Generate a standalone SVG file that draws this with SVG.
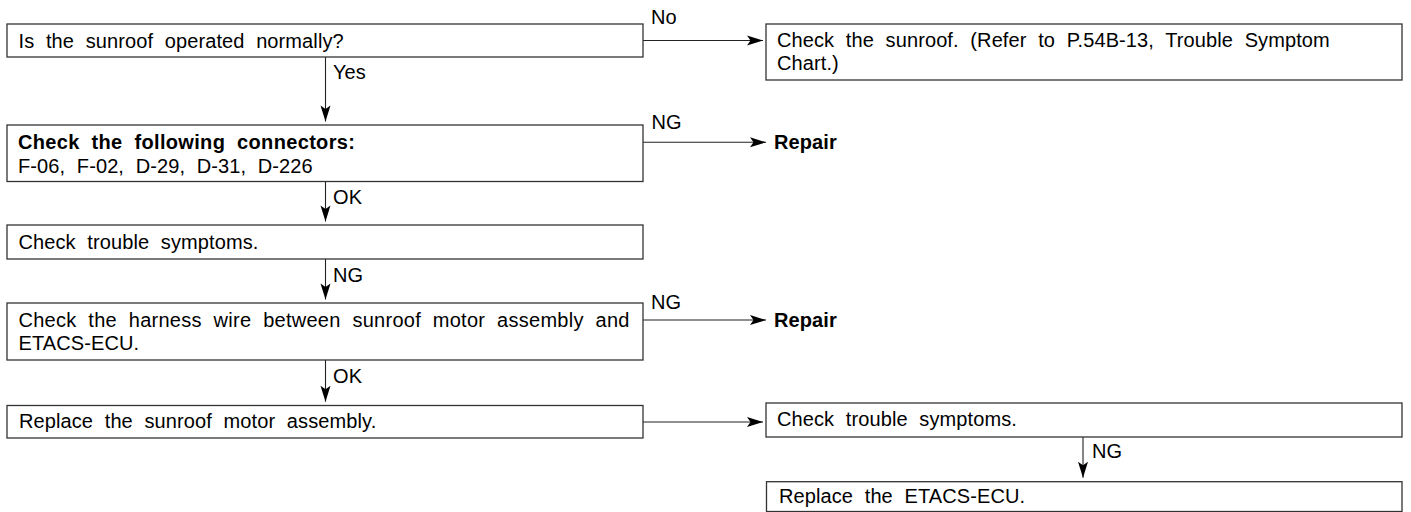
<svg xmlns="http://www.w3.org/2000/svg" width="1411" height="512" viewBox="0 0 1411 512">
<style>
.box{fill:#fff;stroke:#333;stroke-width:1.3}
.t{font-family:"Liberation Sans",Arial,sans-serif;font-size:20px;fill:#000;word-spacing:6px;letter-spacing:0.1px}
.b{font-weight:bold}
.ln{fill:none;stroke:#222;stroke-width:1.1}
</style>
<defs>
<marker id="ah" markerUnits="userSpaceOnUse" markerWidth="17" markerHeight="11" refX="16" refY="5" orient="auto" overflow="visible">
<path d="M0,0 L16,5 L0,10 L3.5,5 Z" fill="#000"/>
</marker>
</defs>
<rect width="1411" height="512" fill="#fff"/>
<g id="connectors">
<line class="ln" x1="643" y1="40.5" x2="763" y2="40.5" marker-end="url(#ah)"/>
<line class="ln" x1="325.5" y1="57" x2="325.5" y2="121.5" marker-end="url(#ah)"/>
<line class="ln" x1="643" y1="142.3" x2="766" y2="142.3" marker-end="url(#ah)"/>
<line class="ln" x1="325.5" y1="181.5" x2="325.5" y2="221.5" marker-end="url(#ah)"/>
<line class="ln" x1="325.5" y1="259" x2="325.5" y2="299.5" marker-end="url(#ah)"/>
<line class="ln" x1="643" y1="320" x2="766" y2="320" marker-end="url(#ah)"/>
<line class="ln" x1="325.5" y1="360" x2="325.5" y2="401.7" marker-end="url(#ah)"/>
<line class="ln" x1="643" y1="422" x2="763" y2="422" marker-end="url(#ah)"/>
<line class="ln" x1="1083" y1="437" x2="1083" y2="477.7" marker-end="url(#ah)"/>
<text class="t" x="651" y="24">No</text>
<text class="t" x="333" y="79">Yes</text>
<text class="t" x="651.5" y="128.5">NG</text>
<text class="t" x="333" y="204">OK</text>
<text class="t" x="333" y="281.5">NG</text>
<text class="t" x="651" y="309">NG</text>
<text class="t" x="333" y="383">OK</text>
<text class="t" x="1092" y="458">NG</text>
</g>
<g id="n1">
<rect class="box" x="7" y="24" width="636" height="33"/>
<text class="t" x="18.5" y="47.5">Is the sunroof operated normally?</text>
</g>
<g id="n2">
<rect class="box" x="766" y="24" width="636" height="56"/>
<text class="t" x="777" y="47">Check the sunroof. (Refer to P.54B-13, Trouble Symptom</text>
<text class="t" x="777" y="70">Chart.)</text>
</g>
<g id="n3">
<rect class="box" x="7" y="125" width="636" height="56.5"/>
<text class="t b" x="18" y="149" textLength="337" lengthAdjust="spacing">Check the following connectors:</text>
<text class="t" x="18" y="172.7">F-06, F-02, D-29, D-31, D-226</text>
</g>
<g id="n4">
<text class="t b" x="774" y="149">Repair</text>
</g>
<g id="n5">
<rect class="box" x="7" y="225" width="636" height="34"/>
<text class="t" x="18.5" y="248.5">Check trouble symptoms.</text>
</g>
<g id="n6">
<rect class="box" x="7" y="303" width="636" height="57"/>
<text class="t" x="18.5" y="326.7" textLength="611" lengthAdjust="spacing">Check the harness wire between sunroof motor assembly and</text>
<text class="t" x="18.5" y="350">ETACS-ECU.</text>
</g>
<g id="n7">
<text class="t b" x="774" y="326.7">Repair</text>
</g>
<g id="n8">
<rect class="box" x="7" y="405.5" width="636" height="32.5"/>
<text class="t" x="19" y="427.7">Replace the sunroof motor assembly.</text>
</g>
<g id="n9">
<rect class="box" x="766" y="403" width="636" height="34"/>
<text class="t" x="777" y="426">Check trouble symptoms.</text>
</g>
<g id="n10">
<rect class="box" x="766.5" y="481.7" width="635.5" height="29.8"/>
<text class="t" x="779" y="503.3">Replace the ETACS-ECU.</text>
</g>
</svg>
